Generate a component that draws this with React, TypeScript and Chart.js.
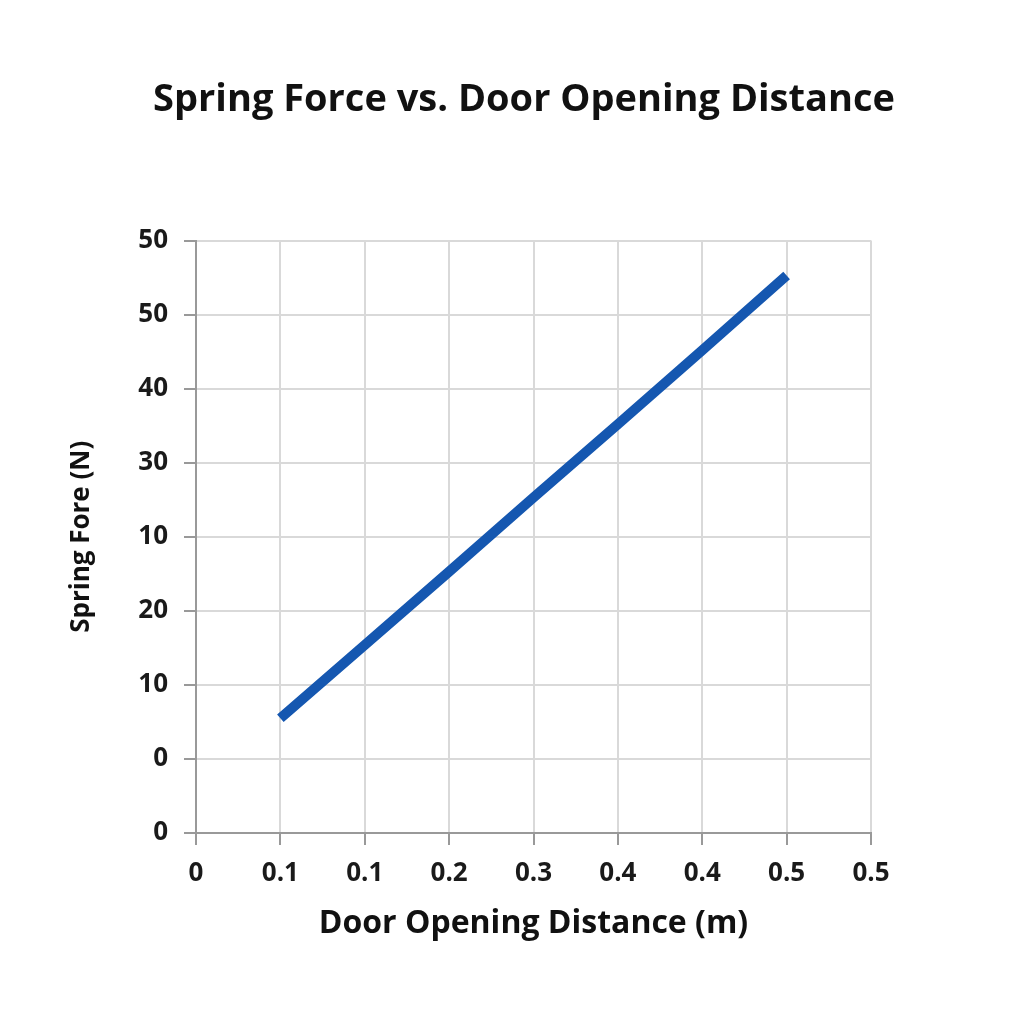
import { useEffect, useRef } from "react";
import { Chart, registerables } from "chart.js";

Chart.register(...registerables);

// Tick labels exactly as printed on the chart (one per gridline)
const xTickLabels = ["0", "0.1", "0.1", "0.2", "0.3", "0.4", "0.4", "0.5", "0.5"];
const yTickLabels = ["0", "0", "10", "20", "10", "30", "40", "50", "50"];

// Series positions, in gridline units
const distanceSteps = [1, 2, 3, 4, 5, 6, 7];
const forceSteps = [1.55, 2.54, 3.53, 4.53, 5.52, 6.52, 7.53];

const FONT = "'Open Sans', 'Noto Sans', sans-serif";

export default function App() {
  const chartRef = useRef<HTMLCanvasElement>(null);
  const chartInstance = useRef<Chart | null>(null);

  useEffect(() => {
    if (!chartRef.current) return;
    if (chartInstance.current) chartInstance.current.destroy();
    const ctx = chartRef.current.getContext("2d");
    if (!ctx) return;

    chartInstance.current = new Chart(ctx, {
      type: "line",
      data: {
        datasets: [
          {
            label: "Spring Force",
            data: distanceSteps.map((x, i) => ({ x, y: forceSteps[i] })),
            borderColor: "#1557b0",
            borderWidth: 10,
            borderCapStyle: "butt",
            pointRadius: 0,
            tension: 0,
          },
        ],
      },
      options: {
        responsive: false,
        animation: false,
        layout: { padding: { left: 62, right: 38, top: 0, bottom: 77 } },
        plugins: {
          legend: { display: false },
          tooltip: { enabled: false },
          title: {
            display: true,
            text: "Spring Force vs. Door Opening Distance",
            color: "#111",
            font: { family: FONT, size: 38, weight: "bold" },
            padding: { top: 77, bottom: 118 },
          },
        },
        scales: {
          x: {
            type: "linear",
            min: 0,
            max: 8,
            afterFit: (scale) => {
              scale.height = 114;
            },
            ticks: {
              stepSize: 1,
              color: "#1a1a1a",
              padding: 13,
              font: { family: FONT, size: 26, weight: "bold" },
              callback: (v) => xTickLabels[Number(v)] ?? "",
            },
            grid: { color: "#d9d9d9", lineWidth: 2, tickLength: 12, tickColor: "#999" },
            border: { color: "#999", width: 2 },
            title: {
              display: true,
              text: "Door Opening Distance (m)",
              color: "#111",
              font: { family: FONT, size: 32, weight: "bold" },
              padding: 4,
            },
          },
          y: {
            type: "linear",
            min: 0,
            max: 8,
            afterFit: (scale) => {
              scale.width = 134;
            },
            ticks: {
              stepSize: 1,
              color: "#1a1a1a",
              padding: 16,
              font: { family: FONT, size: 26, weight: "bold" },
              callback: (v) => yTickLabels[Number(v)] ?? "",
            },
            grid: { color: "#d9d9d9", lineWidth: 2, tickLength: 12, tickColor: "#999" },
            border: { color: "#999", width: 2 },
            title: {
              display: true,
              text: "Spring Fore (N)",
              color: "#111",
              font: { family: FONT, size: 26, weight: "bold" },
              padding: 4,
            },
          },
          // empty right-hand axis: only reserves the white margin on the right
          yRight: {
            type: "linear",
            position: "right",
            min: 0,
            max: 8,
            afterFit: (scale) => {
              scale.width = 115;
            },
            ticks: { display: false },
            grid: { display: false },
            border: { display: false },
          },
        },
      },
    });

    return () => {
      if (chartInstance.current) chartInstance.current.destroy();
    };
  }, []);

  return (
    <div style={{ position: "fixed", left: 0, top: 0, width: 1024, height: 1024, background: "#fff" }}>
      <canvas ref={chartRef} width={1024} height={1024} style={{ width: 1024, height: 1024 }}></canvas>
    </div>
  );
}
